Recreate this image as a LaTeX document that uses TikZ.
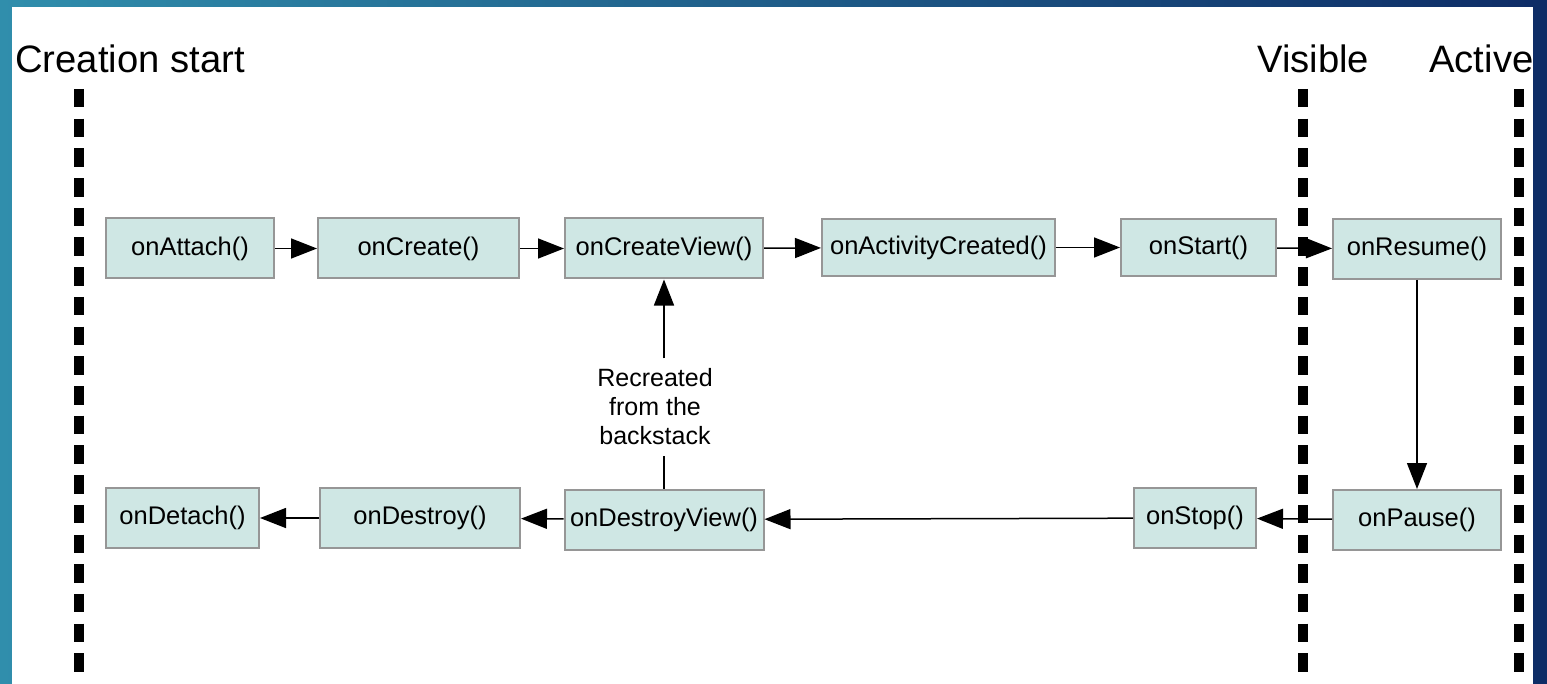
\documentclass[tikz,border=0pt]{standalone}
\usepackage{fontspec}
\setmainfont{Liberation Sans}
\usepackage{tikz}
\usetikzlibrary{arrows.meta,positioning}
\definecolor{bgteal}{RGB}{48,142,172}
\definecolor{bgnavy}{RGB}{14,44,102}
\definecolor{boxfill}{RGB}{207,231,228}
\definecolor{boxline}{RGB}{150,150,150}

\begin{document}
\begin{tikzpicture}[x=0.5pt,y=-0.5pt]
\tikzstyle{cb}=[draw=boxline, fill=boxfill, line width=1pt, minimum height=30pt, inner sep=0pt, font=\fontsize{12.75}{15}\selectfont]
\tikzstyle{arr}=[-{Triangle[length=13pt,width=10pt]}, line width=0.75pt]
\tikzstyle{phase}=[line width=5pt, dash pattern=on 9.25pt off 5.6pt]
\tikzstyle{ttl}=[anchor=base west, inner sep=0pt, font=\fontsize{19.1}{22}\selectfont]

\useasboundingbox (0,0) rectangle (1547,684);
\fill[left color=bgteal, right color=bgnavy] (0,0) rectangle (1547,684);
\fill[white] (12,7) rectangle (1533,684);

\begin{scope}
\clip (12,7) rectangle (1533,684);
\node[ttl] (cs) at (15,73) {Creation start};
\node[ttl] (vis) at (1257,73) {Visible};
\node[ttl] (act) at (1429,73) {Active};
\draw[phase] (79,89) -- (79,672);
\draw[phase] (1302.5,89) -- (1302.5,672);
\draw[phase] (1518.5,89) -- (1518.5,672);

\node[cb, minimum width=84pt] (att) at (190,248.5) {onAttach()};
\node[cb, minimum width=100.5pt] (cre) at (418.5,248.5) {onCreate()};
\node[cb, minimum width=99pt] (cv) at (664,248.5) {onCreateView()};
\node[cb, minimum width=116.5pt, minimum height=28.5pt] (ac) at (938.5,247.5) {onActivityCreated()};
\node[cb, minimum width=77.5pt, minimum height=28.5pt] (st) at (1198.5,247.5) {onStart()};
\node[cb, minimum width=84pt] (res) at (1417,249) {onResume()};

\node[cb, minimum width=84pt, below=104.5pt of res] (pau) {onPause()};
\node[cb, minimum width=99.5pt, below=104.5pt of cv] (dv) {onDestroyView()};
\node[cb, minimum width=61pt] (stp) at (1195,518) {onStop()};
\node[cb, minimum width=100pt] (des) at (420,518) {onDestroy()};
\node[cb, minimum width=76.5pt] (det) at (182.5,518) {onDetach()};

\node[align=center, inner sep=5pt, font=\fontsize{12.5}{14.5}\selectfont] (rb) at (655,407) {Recreated\\from the\\backstack};

\draw[arr] (att) -- (cre);
\draw[arr] (cre) -- (cv);
\draw[arr] (cv) -- (ac);
\draw[arr] (ac) -- (st);
\draw[arr] (st) -- (res);
\draw[arr] (res) -- (pau);
\draw[arr] (pau) -- (stp);
\draw[arr] (stp) -- (dv);
\draw[arr] (dv) -- (des);
\draw[arr] (des) -- (det);
\draw[line width=0.75pt] (dv.north) -- (dv.north |- rb.south);
\draw[arr] (cv.south |- rb.north) -- (cv.south);
\end{scope}
\end{tikzpicture}
\end{document}
